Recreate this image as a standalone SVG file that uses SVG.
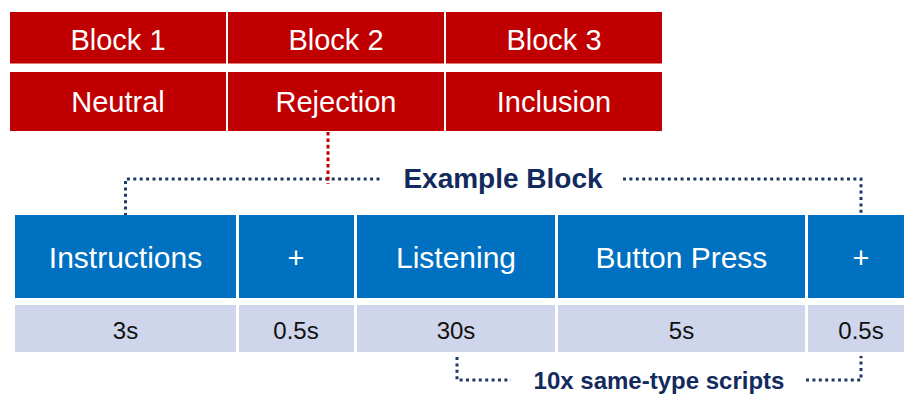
<svg xmlns="http://www.w3.org/2000/svg" width="904" height="394" viewBox="0 0 904 394">
<style>
.red{fill:#c00000}
.blue{fill:#0070c0}
.gray{fill:#cfd5ea}
.wt{font-family:"Liberation Sans",Arial,sans-serif;font-size:29px;fill:#ffffff;text-anchor:middle}
.wb{font-size:30px}
.gt{font-family:"Liberation Sans",Arial,sans-serif;font-size:24px;fill:#111111;text-anchor:middle}
.nv{font-family:"Liberation Sans",Arial,sans-serif;font-weight:bold;fill:#132a5e;text-anchor:middle}
.dotb{fill:none;stroke:#1f3864;stroke-width:3;stroke-dasharray:3 3.4}
.dotr{fill:none;stroke:#c00000;stroke-width:3;stroke-dasharray:3.6 2.8}
</style>
<rect width="904" height="394" fill="#ffffff"/>
<g id="connectors">
<path class="dotb" d="M125.5,216 V179 H383"/>
<path class="dotb" d="M623,179 H861 V214"/>
<path class="dotr" d="M328,132 V184"/>
<path class="dotb" d="M457,357 V380 H511"/>
<path class="dotb" d="M806,380 H861 V356"/>
</g>
<g id="block1"><rect class="red" x="10" y="12" width="216" height="51.5"/><text class="wt" x="118" y="50">Block 1</text></g>
<g id="block2"><rect class="red" x="228" y="12" width="216" height="51.5"/><text class="wt" x="336" y="50">Block 2</text></g>
<g id="block3"><rect class="red" x="446" y="12" width="216" height="51.5"/><text class="wt" x="554" y="50">Block 3</text></g>
<g id="neutral"><rect class="red" x="10" y="72" width="216" height="59"/><text class="wt" x="118" y="112">Neutral</text></g>
<g id="rejection"><rect class="red" x="228" y="72" width="216" height="59"/><text class="wt" x="336" y="112">Rejection</text></g>
<g id="inclusion"><rect class="red" x="446" y="72" width="216" height="59"/><text class="wt" x="554" y="112">Inclusion</text></g>
<g id="example-block"><text class="nv" x="503" y="188" font-size="28">Example Block</text></g>
<g id="instructions"><rect class="blue" x="15" y="215" width="221" height="83"/><text class="wt wb" x="125.5" y="268">Instructions</text></g>
<g id="plus1"><rect class="blue" x="239" y="215" width="115" height="83"/><text class="wt" x="296" y="268">+</text></g>
<g id="listening"><rect class="blue" x="357" y="215" width="198" height="83"/><text class="wt wb" x="456" y="268">Listening</text></g>
<g id="button-press"><rect class="blue" x="558" y="215" width="247" height="83"/><text class="wt wb" x="681.5" y="268">Button Press</text></g>
<g id="plus2"><rect class="blue" x="808" y="215" width="96" height="83"/><text class="wt" x="861" y="268">+</text></g>
<g id="t-instructions"><rect class="gray" x="15" y="305" width="221" height="47"/><text class="gt" x="125.5" y="339">3s</text></g>
<g id="t-plus1"><rect class="gray" x="239" y="305" width="115" height="47"/><text class="gt" x="296" y="339">0.5s</text></g>
<g id="t-listening"><rect class="gray" x="357" y="305" width="198" height="47"/><text class="gt" x="456" y="339">30s</text></g>
<g id="t-button"><rect class="gray" x="558" y="305" width="247" height="47"/><text class="gt" x="681.5" y="339">5s</text></g>
<g id="t-plus2"><rect class="gray" x="808" y="305" width="96" height="47"/><text class="gt" x="861" y="339">0.5s</text></g>
<g id="repeat-label"><text class="nv" x="659" y="389" font-size="24">10x same-type scripts</text></g>
</svg>
